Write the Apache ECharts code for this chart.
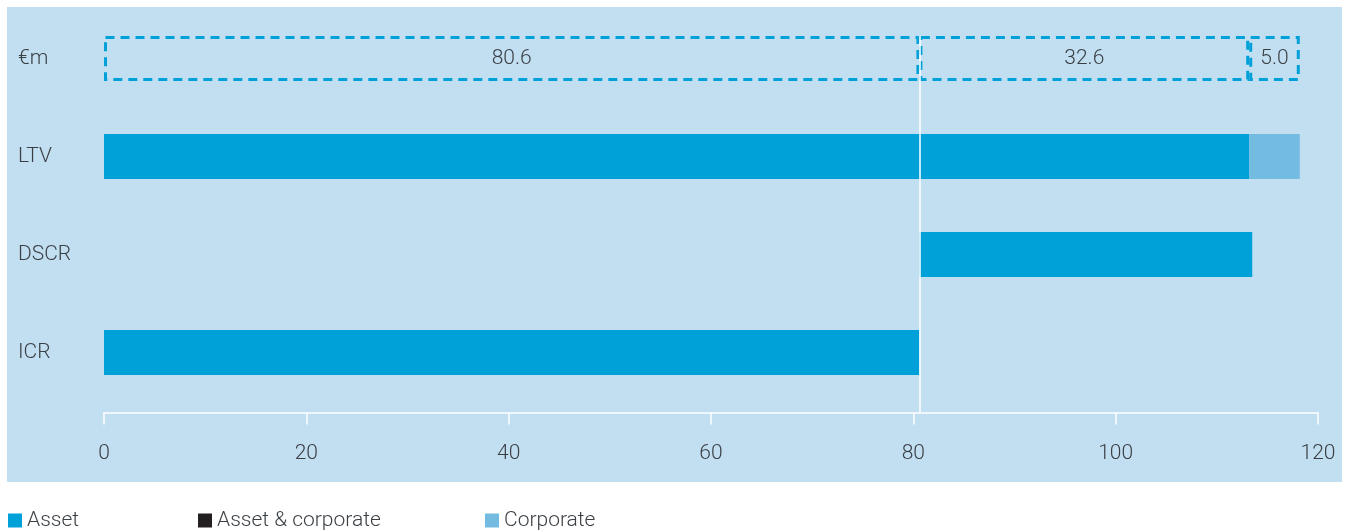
<!DOCTYPE html>
<html>
<head>
  <meta charset="utf-8">
  <title>Covenant headroom</title>
  <script src="https://cdn.jsdelivr.net/npm/echarts@6/dist/echarts.min.js"></script>
  <style>
    html, body { margin: 0; padding: 0; background: #fff; }
    #chart { width: 1345px; height: 530px; }
  </style>
</head>
<body>
  <div id="chart"></div>
  <script>
    // data
    var categories = ['€m', 'LTV', 'DSCR', 'ICR'];
    var offsetValues = [0, 0, 80.6, 0];          // invisible start for DSCR
    var assetValues = ['-', 113.2, 32.9, 80.6];
    var assetCorpValues = ['-', '-', '-', '-'];
    var corporateValues = ['-', 5.0, '-', '-'];
    var boxValues = [80.6, 32.6, 5.0];           // dashed boxes on the €m row
    var dividerValue = 80.6;
    var xMin = 0, xMax = 120, xStep = 20;

    var blue = '#00a1d8';
    var lightBlue = '#74bbe2';
    var black = '#231f20';
    var textColor = '#3a3f44';
    var font = 'Roboto';
    var fontSize = 21;

    var chart = echarts.init(document.getElementById('chart'));

    var series = [
      {
        name: 'offset', type: 'bar', stack: 'a', xAxisIndex: 0, yAxisIndex: 0,
        data: offsetValues, barWidth: 45, silent: true,
        itemStyle: { color: 'transparent' }
      },
      {
        name: 'Asset', type: 'bar', stack: 'a', xAxisIndex: 0, yAxisIndex: 0,
        data: assetValues, barWidth: 45, itemStyle: { color: blue }
      },
      {
        name: 'Asset & corporate', type: 'bar', stack: 'a', xAxisIndex: 0, yAxisIndex: 0,
        data: assetCorpValues, barWidth: 45, itemStyle: { color: black }
      },
      {
        name: 'Corporate', type: 'bar', stack: 'a', xAxisIndex: 0, yAxisIndex: 0,
        data: corporateValues, barWidth: 45, itemStyle: { color: lightBlue }
      }
    ];

    // dashed boxes, one series per segment
    boxValues.forEach(function (v, i) {
      var d = categories.map(function (c, j) { return j === 0 ? v : '-'; });
      series.push({
        name: 'box' + i, type: 'bar', stack: 'a', xAxisIndex: 0, yAxisIndex: 0,
        data: d, barWidth: 45, silent: true,
        itemStyle: {
          color: 'transparent',
          borderColor: blue,
          borderWidth: 3,
          borderType: [9, 6]
        },
        label: {
          show: true, position: 'inside',
          formatter: function (p) { return p.value.toFixed(1); },
          color: textColor, fontFamily: font, fontWeight: 300, fontSize: fontSize
        }
      });
    });

    // white divider line on the second grid
    series.push({
      name: 'divider', type: 'line', xAxisIndex: 1, yAxisIndex: 1,
      data: [], silent: true, z: 5,
      markLine: {
        silent: true, symbol: 'none', label: { show: false },
        lineStyle: { color: '#ffffff', width: 1.5, type: 'solid' },
        data: [{ xAxis: dividerValue }]
      }
    });

    function legendAt(name, left) {
      return {
        data: [name], left: left, top: 510, padding: 0,
        icon: 'rect', itemWidth: 14, itemHeight: 14,
        selectedMode: false,
        textStyle: { color: textColor, fontFamily: font, fontWeight: 300, fontSize: fontSize }
      };
    }

    var option = {
      animation: false,
      backgroundColor: '#ffffff',
      graphic: [{
        type: 'rect', left: 7, top: 7, z: -10,
        shape: { width: 1335, height: 475 },
        style: { fill: '#c2dff2' }
      }],
      legend: [
        legendAt('Asset', 8),
        legendAt('Asset & corporate', 198),
        legendAt('Corporate', 485)
      ],
      grid: [
        { left: 104, right: 27, top: 9.5, height: 392 },
        { left: 104, right: 27, top: 36, bottom: 117.5 }
      ],
      xAxis: [
        { gridIndex: 0, type: 'value', min: xMin, max: xMax, interval: xStep, show: false },
        {
          gridIndex: 1, type: 'value', min: xMin, max: xMax, interval: xStep,
          axisLine: { show: true, lineStyle: { color: '#ffffff', width: 1.5 } },
          axisTick: { show: true, length: 12, lineStyle: { color: '#ffffff', width: 1.5 } },
          splitLine: { show: false },
          axisLabel: {
            margin: 31, color: textColor, fontFamily: font, fontWeight: 300, fontSize: fontSize
          }
        }
      ],
      yAxis: [
        {
          gridIndex: 0, type: 'category', data: categories, inverse: true,
          axisLine: { show: false }, axisTick: { show: false },
          axisLabel: {
            align: 'left', margin: 86,
            color: textColor, fontFamily: font, fontWeight: 300, fontSize: fontSize
          }
        },
        { gridIndex: 1, type: 'value', min: 0, max: 1, show: false }
      ],
      series: series
    };

    chart.setOption(option);
  </script>
</body>
</html>
